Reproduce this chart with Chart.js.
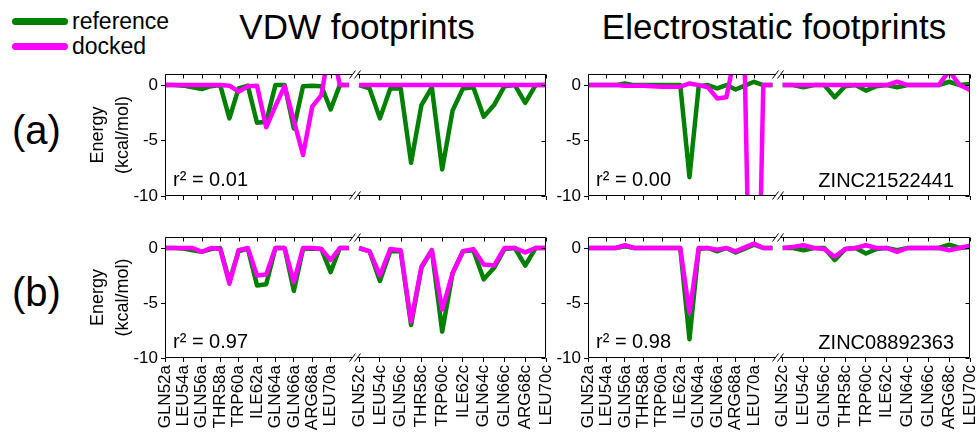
<!DOCTYPE html>
<html>
<head>
<meta charset="utf-8">
<title>VDW and electrostatic footprints</title>
<script src="https://cdn.jsdelivr.net/npm/chart.js@4.4.1/dist/chart.umd.min.js"></script>
<style>
    html, body { margin: 0; padding: 0; background: #fff; overflow: hidden; }
    body { width: 977px; height: 439px; position: relative; font-family: "Liberation Sans", Arial, sans-serif; color: #000; }
    canvas, .txt, .key { position: absolute; }
    .txt { line-height: 1; white-space: nowrap; }
    .key { height: 7px; border-radius: 4px; }
</style>
</head>
<body>

<div class="key" id="keyRef" style="left:12px;top:18px;width:56px;"></div>
<div class="txt" style="left:72px;top:10px;font-size:23px;">reference</div>
<div class="key" id="keyDock" style="left:12px;top:43px;width:56px;"></div>
<div class="txt" style="left:72px;top:35px;font-size:23px;">docked</div>

<div class="txt" style="left:207px;top:9px;width:300px;text-align:center;font-size:35px;">VDW footprints</div>
<div class="txt" style="left:574px;top:9px;width:400px;text-align:center;font-size:35px;">Electrostatic footprints</div>

<div class="txt" style="left:12px;top:110px;font-size:40px;">(a)</div>
<div class="txt" style="left:12px;top:272px;font-size:40px;">(b)</div>

<canvas id="vdwA"></canvas>
<canvas id="elecA"></canvas>
<canvas id="vdwB"></canvas>
<canvas id="elecB"></canvas>

<script>
const REF_COLOR = "#008000";
const DOCK_COLOR = "#ff00ff";

// residue numbers of the two chains
const residA = [52, 53, 54, 55, 56, 57, 58, 59, 60, 61, 62, 63, 64, 65, 66, 67, 68, 69, 70, 71, 72];
const residC = [52, 53, 54, 55, 56, 57, 58, 59, 60, 61, 62, 63, 64, 65, 66, 67, 68, 69, 70];

const tickResid = [52, 54, 56, 58, 60, 62, 64, 66, 68, 70];
const tickNamesA = ["GLN52a", "LEU54a", "GLN56a", "THR58a", "TRP60a", "ILE62a", "GLN64a", "GLN66a", "ARG68a", "LEU70a"];
const tickNamesC = ["GLN52c", "LEU54c", "GLN56c", "THR58c", "TRP60c", "ILE62c", "GLN64c", "GLN66c", "ARG68c", "LEU70c"];
const yTicks = [-10, -5, 0];

// reference ligand footprints (same in both rows)
const vdwRefA = [0, 0, -0.05, -0.2, -0.35, -0.1, 0, -3.0, -0.3, -0.05, -3.4, -3.3, 0, 0, -3.9, -0.1, -0.05, -0.1, -2.2, 0, 0];
const vdwRefC = [0, -0.3, -3.0, -0.3, -0.3, -7.0, -1.8, -0.2, -7.6, -2.3, -0.3, -0.2, -2.85, -1.8, -0.1, 0, -1.6, 0, 0];
const elecRefA = [0, 0, 0, 0, 0.15, 0, 0, 0, 0, 0, 0, -8.3, -0.1, 0, -0.3, 0, -0.4, -0.05, 0.3, 0, 0];
const elecRefC = [0, 0, -0.2, 0, 0, -1.1, -0.1, 0, -0.5, -0.1, 0, -0.2, 0, 0, 0, 0, 0.3, 0, 0.1];

// (a) ZINC21522441
const vdwDockA1 = [0, 0, 0, 0, 0, 0, 0, -0.05, -0.6, -0.1, -0.05, -3.8, -1.9, -0.1, -3.2, -6.3, -1.95, -0.9, 4, 0, 0];
const vdwDockC1 = [0, 0, 0, 0, 0, 0, 0, 0, 0, 0, 0, 0, 0, 0, 0, 0, 0, 0, 0];
const elecDockA1 = [0, 0, 0, 0, -0.05, -0.05, -0.05, -0.1, -0.15, -0.15, -0.15, 0.15, 0, -0.2, -1.2, -1.1, 3, 1.2, -40, 0, 0];
const elecDockC1 = [0, 0, 0, 0, 0, 0, 0, 0, 0, 0, 0, 0.3, 0, 0, 0, 0, 1.3, 0, -0.45];

// (b) ZINC08892363
const vdwDockA2 = [0, 0, 0, 0, -0.35, 0, -0.1, -3.25, -0.2, 0, -2.5, -2.4, 0, 0, -3.1, 0, 0, -0.1, -1.1, 0, 0];
const vdwDockC2 = [0, -0.3, -2.5, -0.1, -0.2, -6.7, -1.7, -0.2, -5.6, -2.3, -0.3, -0.1, -1.5, -1.6, 0, 0, -0.4, 0, 0];
const elecDockA2 = [0, 0, 0, 0, 0.25, 0, 0, 0, 0, 0, 0, -5.9, 0, 0, -0.15, 0, -0.3, 0.05, 0.4, 0, 0];
const elecDockC2 = [0, 0.1, 0.25, 0, -0.1, -0.8, -0.1, 0, 0.25, 0, 0, -0.35, 0, 0, 0, 0, -0.2, 0, 0.2];

const panels = [
    { id: "vdwA", ref: [vdwRefA, vdwRefC], dock: [vdwDockA1, vdwDockC1], yTitle: true, xLabels: false, r2: "r\u00b2 = 0.01", zinc: "" },
    { id: "elecA", ref: [elecRefA, elecRefC], dock: [elecDockA1, elecDockC1], yTitle: false, xLabels: false, r2: "r\u00b2 = 0.00", zinc: "ZINC21522441" },
    { id: "vdwB", ref: [vdwRefA, vdwRefC], dock: [vdwDockA2, vdwDockC2], yTitle: true, xLabels: true, r2: "r\u00b2 = 0.97", zinc: "" },
    { id: "elecB", ref: [elecRefA, elecRefC], dock: [elecDockA2, elecDockC2], yTitle: false, xLabels: true, r2: "r\u00b2 = 0.98", zinc: "ZINC08892363" }
];

// canvas placement, kept apart from the data
const boxes = {
    vdwA:  { left: 70,  top: 64,  width: 492, height: 140, yw: 95, xh: 8,  padTop: 10, padRight: 16 },
    elecA: { left: 538, top: 64,  width: 439, height: 140, yw: 50, xh: 8,  padTop: 10, padRight: 7 },
    vdwB:  { left: 70,  top: 227, width: 492, height: 212, yw: 95, xh: 81, padTop: 10, padRight: 16 },
    elecB: { left: 538, top: 227, width: 439, height: 212, yw: 50, xh: 81, padTop: 10, padRight: 7 }
};

Chart.defaults.font.family = '"Liberation Sans", Arial, sans-serif';
Chart.defaults.color = "#000";

document.getElementById("keyRef").style.background = REF_COLOR;
document.getElementById("keyDock").style.background = DOCK_COLOR;

function points(xs, ys) {
    return xs.map((x, i) => ({ x: x, y: ys[i] }));
}

// box, break marks, inner ticks and the panel notes
const panelFrame = {
    id: "panelFrame",
    afterDraw(chart, args, opts) {
        const ctx = chart.ctx;
        const a = chart.chartArea;
        const xa = chart.scales.xa, xc = chart.scales.xc, ys = chart.scales.y;
        const L = Math.round(a.left) + 0.5, R = Math.round(a.right) - 0.5;
        const T = Math.round(a.top) + 0.5, B = Math.round(a.bottom) - 0.5;
        const bx = Math.round(xa.right);

        ctx.save();
        ctx.strokeStyle = "#000";
        ctx.lineWidth = 1;
        ctx.beginPath();
        ctx.moveTo(L, T); ctx.lineTo(L, B);
        ctx.moveTo(R, T); ctx.lineTo(R, B);
        [T, B].forEach(y => {
            ctx.moveTo(L, y); ctx.lineTo(bx - 2.5, y);
            ctx.moveTo(bx + 2.5, y); ctx.lineTo(R, y);
            [-2.5, 2.5].forEach(dx => {
                ctx.moveTo(bx + dx - 3, y + 4);
                ctx.lineTo(bx + dx + 3, y - 4);
            });
        });
        [xa, xc].forEach(s => {
            s.ticks.forEach(t => {
                const px = Math.round(s.getPixelForValue(t.value)) + 0.5;
                ctx.moveTo(px, T); ctx.lineTo(px, T + 4);
            });
        });
        ys.ticks.forEach(t => {
            const py = Math.round(ys.getPixelForValue(t.value)) + 0.5;
            ctx.moveTo(R, py); ctx.lineTo(R - 4, py);
        });
        ctx.stroke();

        ctx.fillStyle = "#000";
        ctx.font = '20px "Liberation Sans", Arial, sans-serif';
        ctx.textBaseline = "alphabetic";
        if (opts.left) {
            ctx.textAlign = "left";
            ctx.fillText(opts.left, a.left + 8, a.bottom - 10);
        }
        if (opts.right) {
            ctx.textAlign = "right";
            ctx.fillText(opts.right, a.right - 16, a.bottom - 9);
        }
        ctx.restore();
    }
};

function xAxis(names, min, max, weight, box, showLabels) {
    return {
        type: "linear",
        position: "bottom",
        stack: "residues",
        stackWeight: weight,
        min: min,
        max: max,
        border: { display: false },
        grid: { drawOnChartArea: false, drawTicks: true, tickLength: 4, tickColor: "#000", lineWidth: 1 },
        afterBuildTicks: s => { s.ticks = tickResid.map(v => ({ value: v })); },
        afterFit: s => { s.height = box.xh; s.paddingLeft = 0; s.paddingRight = 0; },
        ticks: {
            display: showLabels,
            autoSkip: false,
            minRotation: 90,
            maxRotation: 90,
            padding: 3,
            font: { size: 17 },
            callback: v => names[tickResid.indexOf(v)]
        }
    };
}

function lineSet(label, color, xs, ys, axis, order) {
    return {
        label: label,
        data: points(xs, ys),
        xAxisID: axis,
        yAxisID: "y",
        borderColor: color,
        borderWidth: 4.5,
        borderJoinStyle: "round",
        pointRadius: 0,
        tension: 0,
        fill: false,
        order: order
    };
}

function drawPanel(p) {
    const box = boxes[p.id];
    const canvas = document.getElementById(p.id);
    canvas.width = box.width;
    canvas.height = box.height;
    canvas.style.left = box.left + "px";
    canvas.style.top = box.top + "px";

    new Chart(canvas.getContext("2d"), {
        type: "line",
        data: {
            datasets: [
                lineSet("docked", DOCK_COLOR, residA, p.dock[0], "xa", 0),
                lineSet("docked", DOCK_COLOR, residC, p.dock[1], "xc", 0),
                lineSet("reference", REF_COLOR, residA, p.ref[0], "xa", 1),
                lineSet("reference", REF_COLOR, residC, p.ref[1], "xc", 1)
            ]
        },
        options: {
            responsive: false,
            animation: false,
            devicePixelRatio: 1,
            layout: { padding: { left: 0, top: box.padTop, right: box.padRight, bottom: 0 } },
            plugins: {
                legend: { display: false },
                tooltip: { enabled: false },
                panelFrame: { left: p.r2, right: p.zinc }
            },
            scales: {
                xa: xAxis(tickNamesA, 52, 72.65, 190, box, p.xLabels),
                xc: xAxis(tickNamesC, 51.6, 70, 191, box, p.xLabels),
                y: {
                    type: "linear",
                    position: "left",
                    min: -10,
                    max: 1,
                    border: { display: false },
                    grid: { drawOnChartArea: false, drawTicks: true, tickLength: 4, tickColor: "#000" },
                    afterBuildTicks: s => { s.ticks = yTicks.map(v => ({ value: v })); },
                    afterFit: s => { s.width = box.yw; s.paddingTop = 0; s.paddingBottom = 0; },
                    ticks: { padding: 3, font: { size: 17 } },
                    title: {
                        display: p.yTitle,
                        text: ["Energy", "(kcal/mol)"],
                        font: { size: 18, lineHeight: 1.4 },
                        padding: { top: 15, bottom: 0 }
                    }
                }
            }
        },
        plugins: [panelFrame]
    });
}

panels.forEach(drawPanel);
</script>
</body>
</html>
